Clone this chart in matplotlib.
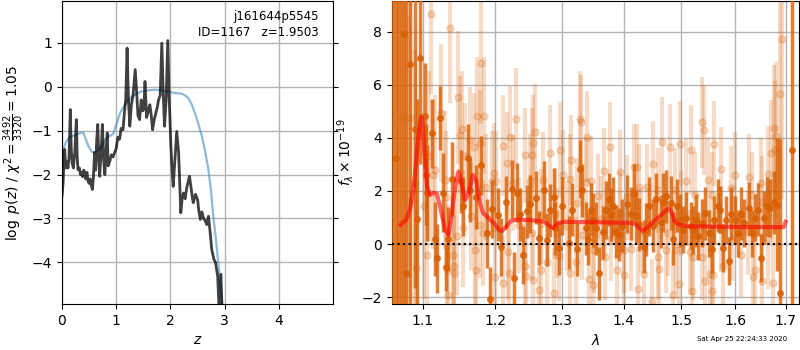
import matplotlib
matplotlib.use('Agg')
import matplotlib.pyplot as plt
from matplotlib.ticker import NullLocator, FixedLocator, FixedFormatter

# --- p(z) panel ---
z_pz = [0.00, 0.02, 0.04, 0.05, 0.07, 0.09, 0.11, 0.13, 0.153, 0.17, 0.185, 0.21, 0.235,
        0.265, 0.28, 0.295, 0.32, 0.34, 0.36, 0.38, 0.40, 0.42, 0.44, 0.46, 0.48, 0.50,
        0.52, 0.54, 0.56, 0.58, 0.60, 0.62, 0.64, 0.66, 0.68, 0.695, 0.72, 0.745, 0.77,
        0.79, 0.815, 0.835, 0.85, 0.88, 0.91, 0.94, 0.97, 1.00, 1.03, 1.06, 1.09, 1.125,
        1.15, 1.175, 1.20, 1.225, 1.25, 1.28, 1.31, 1.35, 1.38, 1.40, 1.43, 1.46, 1.49,
        1.51, 1.53, 1.56, 1.59, 1.62, 1.645, 1.67, 1.70, 1.73, 1.76, 1.78, 1.81, 1.84,
        1.865, 1.89, 1.92, 1.95, 1.975, 2.005, 2.03, 2.05, 2.08, 2.115, 2.15, 2.19, 2.215,
        2.24, 2.27, 2.30, 2.35, 2.38, 2.40, 2.42, 2.46, 2.50, 2.52, 2.55, 2.58, 2.61, 2.64,
        2.67, 2.70, 2.73, 2.76, 2.80, 2.83, 2.87, 2.90, 2.93, 2.96]
logpz = [-2.49, -2.2, -1.55, -1.43, -1.85, -1.7, -1.85, -1.6, -0.52, -1.4, -1.73, -1.85, -1.5,
         -0.75, -1.6, -1.89, -1.85, -2.0, -1.95, -2.05, -1.9, -1.95, -2.1, -1.95, -2.15, -2.2,
         -2.1, -2.25, -2.34, -2.05, -1.5, -1.9, -1.2, -0.86, -1.7, -2.04, -1.5, -0.86, -1.7,
         -2.0, -1.4, -1.05, -1.8, -1.7, -1.55, -1.6, -1.5, -1.4, -1.15, -1.2, -0.95, -0.98,
         -0.6, -0.3, 0.88, -0.3, -0.9, -0.4, -0.2, 0.39, -0.2, -0.65, -0.75, -0.3, -0.55,
         -0.5, 0.12, -0.7, -0.55, -0.41, -0.65, -0.98, -0.75, -0.6, -0.45, -0.3, -0.2, 0.99,
         -0.1, -0.9, -0.3, 1.05, -0.2, -1.28, -1.9, -2.27, -1.7, -1.02, -1.5, -2.87, -2.55,
         -2.42, -2.55, -2.3, -2.04, -2.3, -2.5, -2.64, -2.45, -2.57, -2.8, -3.02, -2.85, -3.0, -3.05,
         -3.14, -2.95, -3.3, -3.70, -3.93, -4.0, -4.31, -5.2, -4.27, -5.5]

z_fit = [0.0, 0.01, 0.025, 0.06, 0.12, 0.24, 0.33, 0.39, 0.44, 0.49, 0.55, 0.60, 0.67, 0.76,
         0.80, 0.85, 0.94, 1.01, 1.07, 1.16, 1.29, 1.40, 1.47, 1.60, 1.72, 1.85, 1.96, 2.05,
         2.15, 2.21, 2.27, 2.33, 2.39, 2.45, 2.51, 2.58, 2.64, 2.70, 2.75, 2.79, 2.84, 2.88,
         2.92, 2.96]
logp_fit = [-2.5, -2.0, -1.43, -1.3, -1.17, -1.1, -1.06, -1.04, -1.2, -1.36, -1.48, -1.5, -1.44,
            -1.3, -1.2, -1.14, -1.08, -0.83, -0.6, -0.41, -0.22, -0.14, -0.11, -0.08, -0.07,
            -0.09, -0.11, -0.14, -0.15, -0.16, -0.2, -0.26, -0.4, -0.6, -0.83, -1.13, -1.48,
            -1.89, -2.4, -2.95, -3.5, -4.0, -4.5, -5.0]

# --- spectrum panel: dark (primary) points ---
dark_wave = [1.062, 1.065, 1.068, 1.0715, 1.0756, 1.079, 1.083, 1.0895, 1.093, 1.0966, 1.1033,
             1.104, 1.1065, 1.1125, 1.116, 1.1195, 1.1236, 1.1274, 1.132, 1.1345, 1.139, 1.152,
             1.155, 1.161, 1.165, 1.173, 1.1806, 1.189, 1.192, 1.196, 1.2036, 1.2085, 1.216,
             1.2243, 1.228, 1.232, 1.237, 1.241, 1.247, 1.252, 1.2604, 1.2653, 1.2727, 1.2777,
             1.2816, 1.2875, 1.289, 1.295, 1.300, 1.3107, 1.3162, 1.3232, 1.3286, 1.3325, 1.338,
             1.3417, 1.346, 1.349, 1.3542, 1.3594, 1.365, 1.3703, 1.3757, 1.3784, 1.3828, 1.3865,
             1.3919, 1.3974, 1.406, 1.4118, 1.4176, 1.4206, 1.4265, 1.4342, 1.4383, 1.4423,
             1.4501, 1.456, 1.4636, 1.4678, 1.4737, 1.4813, 1.4855, 1.493, 1.497, 1.503, 1.5093,
             1.517, 1.5216, 1.526, 1.531, 1.537, 1.543, 1.5505, 1.5555, 1.560, 1.567, 1.571,
             1.577, 1.583, 1.5875, 1.5925, 1.599, 1.605, 1.612, 1.618, 1.626, 1.633, 1.638,
             1.645, 1.650, 1.656, 1.663, 1.669, 1.676, 1.682, 1.689, 1.714]
dark_flux = [12.0, 3.24, -4.0, 10.5, 7.9, -1.09, 6.79, 4.34, 0.95, 7.0, 4.83,
             2.61, 1.92, 4.18, 0.19, -0.53, 4.76, 1.94, -0.88, 0.2, 2.46, 2.36,
             1.42, 3.24, 2.04, 1.77, 2.96, 0.41, -2.06, 1.32, 1.1, -0.11, 1.57,
             2.07, -1.28, 1.94, 1.12, -0.41, 1.23, 1.52, 1.75, 0.23, 2.04, 0.16,
             1.27, 1.77, 0.6, -0.15, 1.44, 0.06, 1.3, -0.19, 2.82, 2.02, 0.6,
             0.2, 1.3, 0.91, 0.6, -1.09, 0.45, 1.29, 1.69, 1.1, 1.42, 0.48,
             0.35, 0.7, 1.52, 1.15, 1.92, 1.05, 0.75, -0.09, 0.55, 1.42,
             0.7, 1.69, 0.85, 1.57, 1.8, 1.55, 0.2, 1.44, 0.9, 0.55, 0.98,
             0.7, 0.54, 0.9, 0.3, 0.8, 1.16, 0.4, -0.19, 0.9, 1.44, 1.3,
             -0.15, 0.9, -0.63, 1.15, 0.9, 0.4, 1.15, 0.8, 1.35, 0.4, 1.0,
             1.3, -0.53, 1.0, 1.42, 1.35, 1.57, 1.48, -1.85, 3.54]
dark_err = [15.0, 14.0, 14.0, 13.0, 12.0, 11.0, 10.0, 6.0, 4.5, 4.0, 2.0,
            1.9, 1.8, 1.3, 1.4, 1.3, 1.2, 1.5, 0.9, 1.2, 1.4, 1.2,
            1.1, 1.3, 1.2, 1.2, 1.1, 1.3, 1.2, 1.1, 1.0, 1.1, 1.0,
            1.1, 1.0, 1.1, 1.0, 1.1, 1.0, 1.1, 1.0, 1.0, 1.1, 1.0,
            1.0, 1.1, 1.0, 1.0, 1.1, 1.0, 1.0, 1.0, 1.1, 1.0, 1.0,
            1.0, 1.0, 1.0, 1.0, 1.0, 1.0, 1.1, 1.0, 1.0, 1.1, 1.0,
            1.0, 1.0, 1.1, 1.0, 1.1, 1.0, 1.0, 1.0, 1.0, 1.1,
            1.0, 1.0, 1.0, 1.1, 1.0, 1.0, 1.0, 1.0, 1.0, 0.9, 1.0,
            0.9, 0.9, 1.0, 0.9, 0.9, 1.0, 0.9, 0.9, 0.9, 1.0, 0.9,
            0.9, 0.9, 0.9, 1.0, 0.9, 0.9, 1.0, 0.9, 1.0, 0.9, 0.9,
            1.0, 0.9, 1.0, 1.1, 1.1, 1.2, 2.5, 5.8, 15.0]

# --- spectrum panel: faint (second PA) points ---
light_wave = [1.0735, 1.0825, 1.0834, 1.0900, 1.0917, 1.102, 1.1065, 1.109, 1.111, 1.1137, 1.116,
              1.124, 1.13, 1.132, 1.1325, 1.1335, 1.1375, 1.1405, 1.1425, 1.143, 1.1468, 1.1481,
              1.1505, 1.153, 1.155, 1.1575, 1.1645, 1.1652, 1.1705, 1.1712, 1.1725, 1.1737,
              1.178, 1.179, 1.1806, 1.183, 1.184, 1.1875, 1.196, 1.1986, 1.1995, 1.201, 1.211,
              1.2118, 1.217, 1.2185, 1.2207, 1.2222, 1.2257, 1.2306, 1.2345, 1.2433, 1.2440,
              1.2455, 1.2506, 1.254, 1.2545, 1.2553, 1.2560, 1.2594, 1.2653, 1.2678, 1.2685,
              1.2703, 1.2777, 1.2816, 1.2875, 1.29, 1.2925, 1.295, 1.2975, 1.3016, 1.3075,
              1.3122, 1.3133, 1.315, 1.3216, 1.3243, 1.3286, 1.3300, 1.3325, 1.338, 1.3397,
              1.3432, 1.346, 1.349, 1.3516, 1.358, 1.3622, 1.3676, 1.3690, 1.3773, 1.3784,
              1.388, 1.3935, 1.3945, 1.400, 1.401, 1.406, 1.4118, 1.4176, 1.4224, 1.4236,
              1.4265, 1.4294, 1.4352, 1.440, 1.4488, 1.4501, 1.4583, 1.4595, 1.4613, 1.4666,
              1.4737, 1.4766, 1.4803, 1.4855, 1.4882, 1.4912, 1.4952, 1.497, 1.500, 1.508,
              1.5154, 1.5185, 1.5195, 1.5216, 1.5246, 1.537, 1.5380, 1.5413, 1.5432, 1.548,
              1.5524, 1.5555, 1.5565, 1.5587, 1.5598, 1.5728, 1.574, 1.5772, 1.5925, 1.5935,
              1.599, 1.6118, 1.6249, 1.6261, 1.632, 1.6346, 1.6379, 1.651, 1.6520, 1.6524,
              1.6641, 1.6650, 1.6706, 1.674, 1.677, 1.6780, 1.6804, 1.689, 1.6918]
light_flux = [4.74, 1.6, 4.74, 2.3, -0.9, 1.44, -0.4, 3.3, 8.66, 2.61, 2.8,
              4.93, 2.42, 1.77, -0.99, -1.91, 8.13, -0.4, -1.09, -0.84, 0.29, 5.53,
              4.11, 4.33, 0.6, 3.3, 3.93, 1.04, 3.67, -0.24, -0.97, 4.83,
              3.8, 0.73, 6.81, 0.41, 4.83, 2.16, 2.36, 2.67, -1.22, 2.36, 3.71,
              -1.47, 3.07, -0.3, -1.07, 4.05, 2.29, 4.72, 0.73, 3.34, -0.84,
              -1.19, 2.36, 3.34, 0.41, 3.8, -1.34, 4.22, -1.72, 1.04, -0.97,
              2.42, -0.69, 3.43, -1.85, 1.15, 0.41, -0.43, 3.55, 2.61, 0.67,
              -1.07, 2.46, 3.17, -0.69, 1.55, 4.7, 4.58, 0.35, 2.32, 4.05,
              -1.3, 2.36, -1.55, -0.24, 1.8, 0.95, 2.76, -0.49, 3.64, 0.2,
              -0.97, 2.71, 1.15, -0.24, -1.15, 1.77, -0.17, 2.92, 2.92, -1.69,
              2.16, 0.5, -1.12, 2.16, -2.16, 3.02, 2.03, -0.49, -0.93, 3.83,
              -0.24, 0.41, 3.66, -1.91, 2.03, -0.24, -1.49, 3.78, 1.15, 2.36,
              -0.3, 3.55, -1.78, -0.49, 1.85, 4.58, -0.49, 4.29, -1.4, 2.42,
              -1.12, 1.85, -1.75, -1.15, 3.78, 2.82, 0.55, -0.84, 2.1, 0.2,
              2.61, -0.4, 0.45, 2.54, 1.85, -1.25, -0.97, 2.29, 1.6, -1.4,
              2.65, 0.2, 3.42, -1.47, 4.36, 3.53, 4.07, 5.64, 7.71]
light_err = [9.0, 7.0, 6.0, 5.0, 4.5, 3.5, 3.0, 3.2, 3.0, 2.8, 2.8,
             2.6, 2.6, 2.5, 2.5, 2.3, 2.8, 2.3, 2.2, 2.2, 2.2, 2.5,
             2.2, 2.2, 2.2, 2.0, 2.0, 2.0, 2.0, 2.0, 2.0, 2.2,
             2.0, 2.0, 2.3, 2.0, 2.2, 2.0, 1.9, 1.9, 1.9, 1.9, 1.9,
             1.8, 1.9, 1.8, 1.8, 1.9, 1.8, 1.9, 1.8, 1.8, 1.8,
             1.8, 1.8, 1.8, 1.8, 1.8, 1.8, 1.8, 1.7, 1.8, 1.8,
             1.8, 1.7, 1.8, 1.7, 1.7, 1.7, 1.7, 1.8, 1.7, 1.7,
             1.7, 1.7, 1.7, 1.7, 1.7, 1.8, 1.8, 1.7, 1.7, 1.7,
             1.7, 1.7, 1.7, 1.6, 1.6, 1.6, 1.6, 1.6, 1.7, 1.6,
             1.6, 1.6, 1.6, 1.6, 1.6, 1.6, 1.6, 1.6, 1.6, 1.6,
             1.6, 1.6, 1.6, 1.6, 1.6, 1.6, 1.6, 1.6, 1.6, 1.7,
             1.6, 1.6, 1.6, 1.6, 1.6, 1.6, 1.6, 1.6, 1.6, 1.6,
             1.6, 1.7, 1.6, 1.6, 1.6, 1.7, 1.6, 1.7, 1.6, 1.6,
             1.6, 1.6, 1.6, 1.6, 1.6, 1.6, 1.6, 1.6, 1.6, 1.6,
             1.6, 1.6, 1.6, 1.6, 1.6, 1.7, 1.7, 1.7, 1.7, 1.8,
             1.8, 1.9, 2.0, 2.2, 2.4, 2.6, 2.8, 4.0, 6.0]

# --- best-fit model ---
model_wave = [1.0718, 1.0786, 1.084, 1.0885, 1.0937, 1.0983, 1.100, 1.1022, 1.106, 1.110, 1.1148,
              1.119, 1.1235, 1.1302, 1.135, 1.1392, 1.1454, 1.1485, 1.1523, 1.1578, 1.1624,
              1.1685, 1.173, 1.1785, 1.183, 1.191, 1.1986, 1.206, 1.2099, 1.2158, 1.2233,
              1.2332, 1.2530, 1.273, 1.283, 1.287, 1.293, 1.3026, 1.3569, 1.4118, 1.420,
              1.4314, 1.4383, 1.4501, 1.4648, 1.4737, 1.478, 1.4826, 1.4885, 1.497, 1.5124,
              1.5617, 1.6245, 1.696, 1.700]
model_flux = [0.73, 0.92, 1.35, 2.16, 3.8, 4.8, 4.6, 3.55, 2.16, 1.85, 1.93,
              1.9, 1.4, 0.53, 0.35, 1.16, 2.42, 2.73, 2.35, 1.66, 1.91,
              2.6, 2.42, 1.54, 1.16, 0.97, 0.78, 0.53, 0.49, 0.65, 0.88,
              0.93, 0.9, 0.84, 0.65, 0.61, 0.78, 0.84, 0.82, 0.8, 0.75,
              0.5, 0.6, 0.84, 1.1, 1.28, 1.35, 1.2, 0.84, 0.72, 0.67,
              0.66, 0.64, 0.64, 0.84]

orange = '#d95f02'

fig = plt.figure(figsize=(8, 3.5), dpi=100)
ax1 = fig.add_axes([0.0775, 0.131, 0.339, 0.866])
ax2 = fig.add_axes([0.49, 0.131, 0.5085, 0.866])

ax1.plot(z_fit, logp_fit, color='#1f77b4', alpha=0.5, lw=1.6)
ax1.plot(z_pz, logpz, color='k', alpha=0.75, lw=2)
ax1.set_xlim(0, 5)
ax1.set_ylim(-4.95, 1.95)
ax1.set_xticks([0, 1, 2, 3, 4])
ax1.set_yticks([-4, -3, -2, -1, 0, 1])
ax1.tick_params(right=True)
ax1.grid(color='0.7', lw=1)
ax1.set_xlabel(r'$z$')
ax1.set_ylabel(r'$\log\ p(z)$ / $\chi^2=\frac{3492}{3320}=1.05$')
ax1.text(0.945, 0.97, 'j161644p5545\nID=1167   z=1.9503', transform=ax1.transAxes,
         ha='right', va='top', fontsize=8.5, linespacing=1.3)

ax2.errorbar(light_wave, light_flux, light_err, fmt='o', color=orange, alpha=0.22,
             ms=5, elinewidth=3, capsize=0, zorder=2)
ax2.errorbar(dark_wave, dark_flux, dark_err, fmt='o', color=orange, alpha=0.8,
             ms=4, elinewidth=2.5, capsize=0, zorder=3)
ax2.plot(model_wave, model_flux, color='red', alpha=0.6, lw=3, zorder=4)
ax2.axhline(0, color='k', ls=':', lw=1.5, zorder=5)
ax2.set_xscale('log')
ax2.set_xlim(1.0605, 1.727)
ax2.set_ylim(-2.26, 9.15)
ticks = [1.1, 1.2, 1.3, 1.4, 1.5, 1.6, 1.7]
ax2.xaxis.set_major_locator(FixedLocator(ticks))
ax2.xaxis.set_major_formatter(FixedFormatter(['%.1f' % t for t in ticks]))
ax2.xaxis.set_minor_locator(NullLocator())
ax2.set_yticks([-2, 0, 2, 4, 6, 8])
ax2.grid(color='0.7', lw=1)
ax2.set_xlabel(r'$\lambda$')
ax2.set_ylabel(r'$f_\lambda\times10^{-19}$')

fig.text(0.984, 0.031, 'Sat Apr 25 22:24:33 2020', ha='right', va='center', fontsize=5)

fig.savefig('out.png', dpi=100)
